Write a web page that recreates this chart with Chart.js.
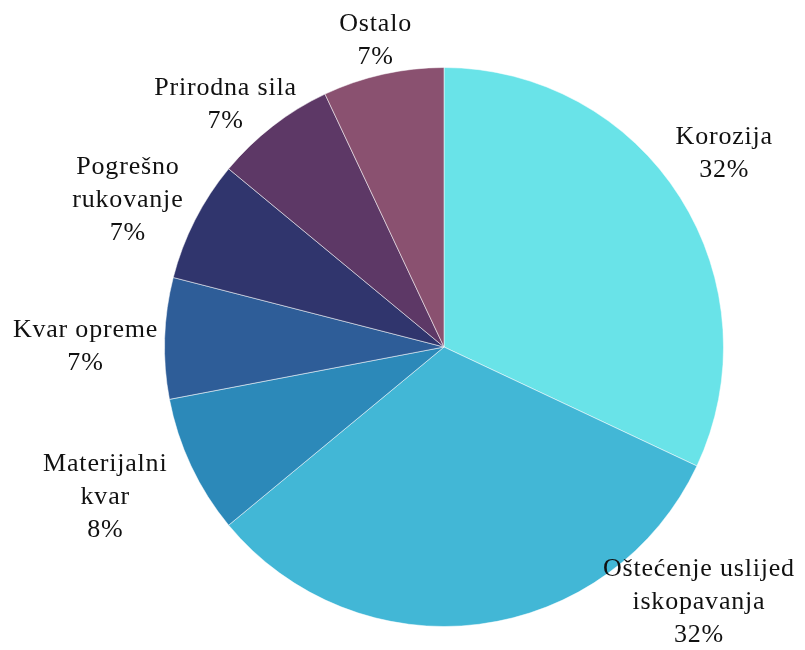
<!DOCTYPE html>
<html>
<head>
<meta charset="utf-8">
<script src="https://cdn.jsdelivr.net/npm/chart.js@4"></script>
<style>
    html, body { margin: 0; padding: 0; background: #fff; }
    #wrap { width: 805px; height: 650px; }
</style>
</head>
<body>
<div id="wrap"><canvas id="chartUzroci"></canvas></div>
<script>
// Uzroci kvarova (udio u %)
const categories = [
    ['Korozija'],
    ['Oštećenje uslijed', 'iskopavanja'],
    ['Materijalni', 'kvar'],
    ['Kvar opreme'],
    ['Pogrešno', 'rukovanje'],
    ['Prirodna sila'],
    ['Ostalo']
];
const shares = [32, 32, 8, 7, 7, 7, 7];
const sliceColors = ['#69e3e8', '#42b7d6', '#2c89b9', '#2e5d98', '#30356d', '#5d3866', '#8a5170'];

// pomak oznake: kut (stupnjevi) u odnosu na sredinu isječka, razmak od ruba
const labelShift = [-2.2, -37.8, 1.3, -1.8, -2.1, -4.2, 0];
const labelGap = [61, 81, 91, 79, 69, 47, 34];

const outerLabels = {
    id: 'outerLabels',
    afterDatasetsDraw(chart) {
        const ctx = chart.ctx;
        const meta = chart.getDatasetMeta(0);
        ctx.save();
        ctx.font = '26px "Liberation Serif", "Times New Roman", serif';
        ctx.letterSpacing = '0.8px';
        ctx.fillStyle = '#111';
        ctx.textAlign = 'center';
        ctx.textBaseline = 'middle';
        const lineH = 33;
        meta.data.forEach(function(arc, i) {
            const mid = (arc.startAngle + arc.endAngle) / 2 + labelShift[i] * Math.PI / 180;
            const d = arc.outerRadius + labelGap[i];
            const cx = arc.x + Math.cos(mid) * d;
            const cy = arc.y + Math.sin(mid) * d;
            const lines = categories[i].concat([shares[i] + '%']);
            const y0 = cy - (lines.length - 1) * lineH / 2;
            lines.forEach(function(t, k) {
                ctx.fillText(t, cx, y0 + k * lineH);
            });
        });
        ctx.restore();
    }
};

new Chart(document.getElementById('chartUzroci').getContext('2d'), {
    type: 'pie',
    data: {
        labels: categories.map(c => c.join(' ')),
        datasets: [{
            data: shares,
            backgroundColor: sliceColors,
            borderColor: 'rgba(255, 255, 255, 0.5)',
            borderWidth: 1
        }]
    },
    options: {
        responsive: true,
        maintainAspectRatio: false,
        animation: false,
        layout: {
            padding: { top: 67, bottom: 23, left: 164, right: 81 }
        },
        plugins: {
            legend: { display: false },
            tooltip: { enabled: false }
        }
    },
    plugins: [outerLabels]
});
</script>
</body>
</html>
